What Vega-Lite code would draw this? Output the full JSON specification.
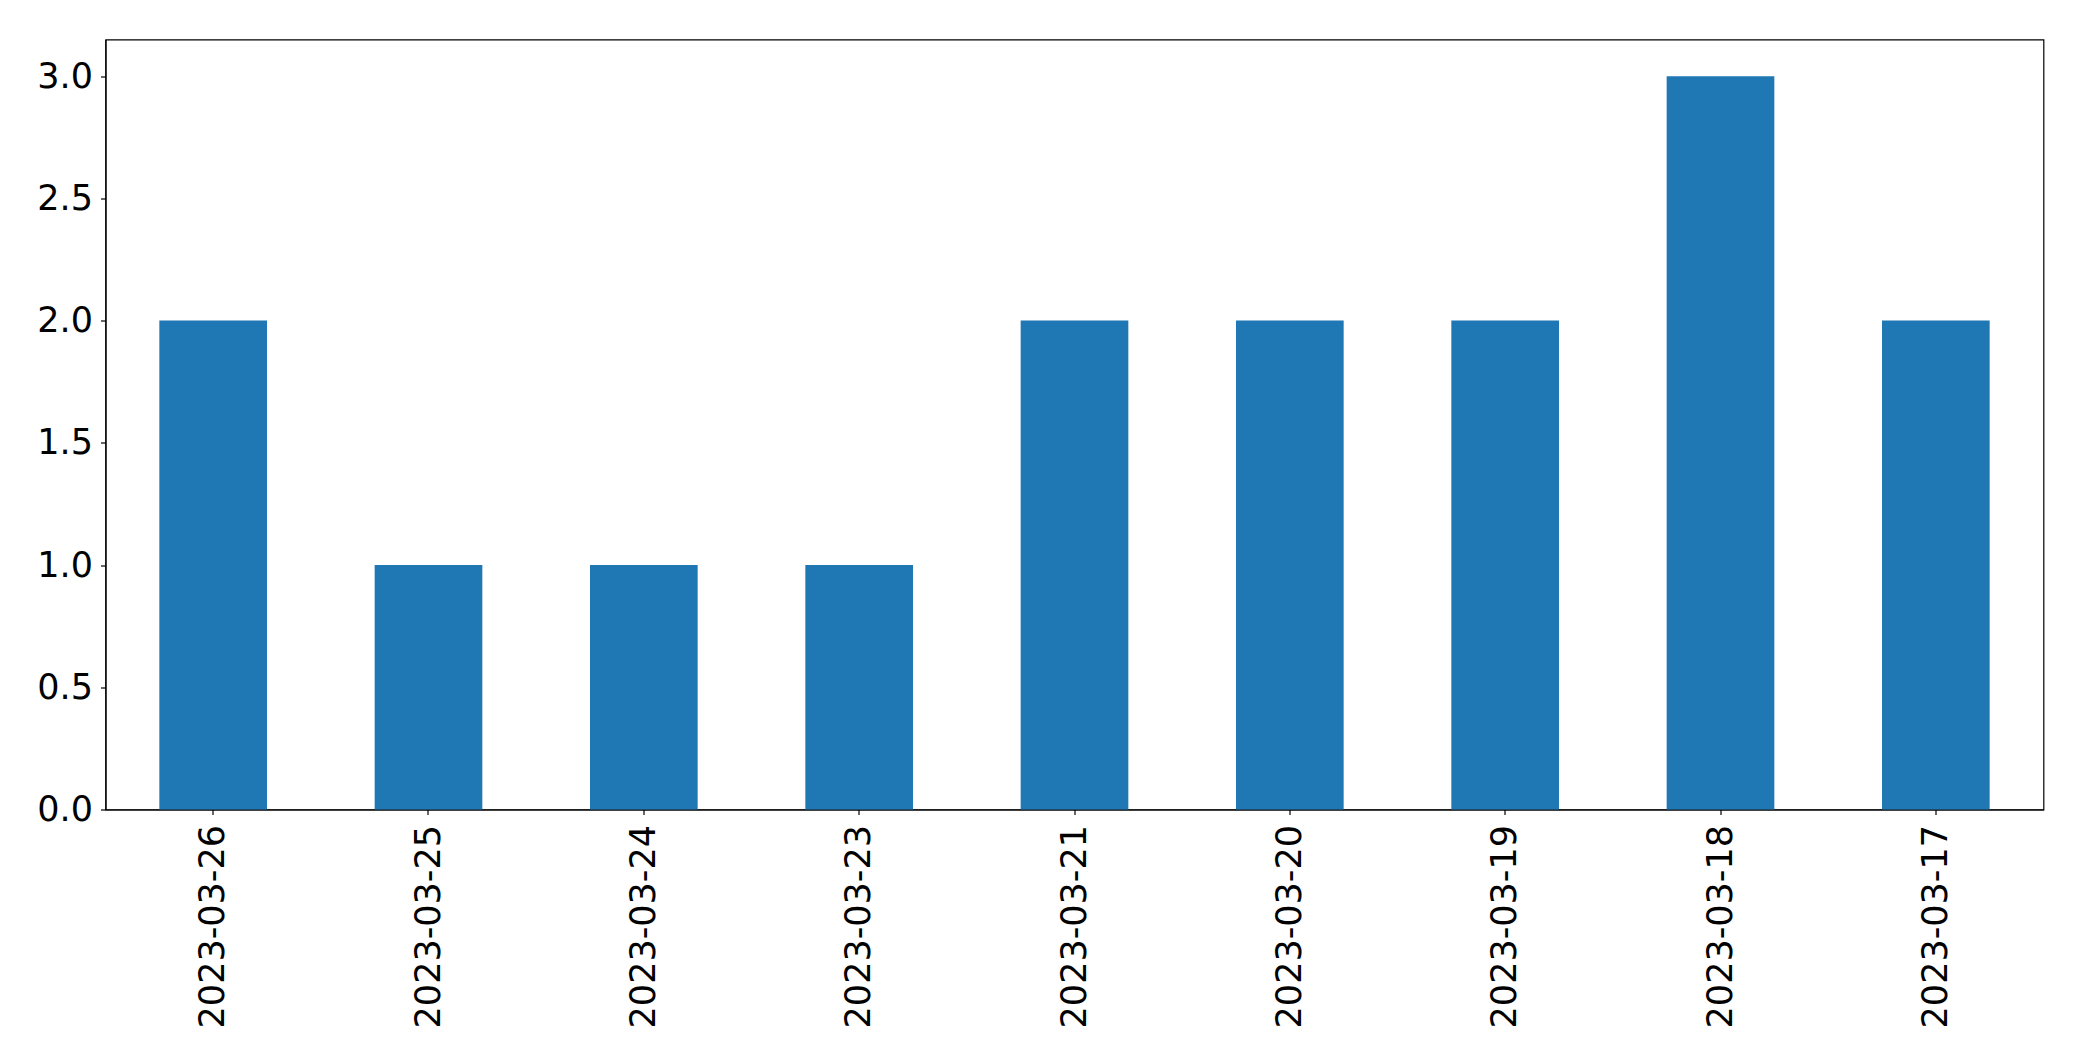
{
  "$schema": "https://vega.github.io/schema/vega-lite/v6.json",
  "autosize": {"type": "none"},
  "padding": {"left": 105.5, "top": 39.5, "right": 38.5, "bottom": 251.5},
  "width": 1938,
  "height": 770,
  "background": "white",
  "config": {
    "view": {"stroke": "black", "strokeWidth": 1.2},
    "axis": {
      "labelFont": "DejaVu Sans",
      "labelFontSize": 35,
      "labelColor": "black",
      "labelLimit": 0,
      "tickColor": "black",
      "domainColor": "black",
      "tickSize": 5,
      "tickWidth": 1.2,
      "domainWidth": 1.2,
      "grid": false,
      "title": null
    }
  },
  "data": {
    "values": [
      {"date": "2023-03-26", "count": 2},
      {"date": "2023-03-25", "count": 1},
      {"date": "2023-03-24", "count": 1},
      {"date": "2023-03-23", "count": 1},
      {"date": "2023-03-21", "count": 2},
      {"date": "2023-03-20", "count": 2},
      {"date": "2023-03-19", "count": 2},
      {"date": "2023-03-18", "count": 3},
      {"date": "2023-03-17", "count": 2}
    ]
  },
  "mark": {"type": "bar", "color": "#1f77b4"},
  "encoding": {
    "x": {
      "field": "date",
      "type": "nominal",
      "sort": null,
      "scale": {"paddingInner": 0.5, "paddingOuter": 0.25},
      "axis": {"labelAngle": -90, "labelAlign": "right", "labelBaseline": "middle", "labelPadding": 10}
    },
    "y": {
      "field": "count",
      "type": "quantitative",
      "scale": {"domain": [0, 3.15], "nice": false},
      "axis": {"values": [0, 0.5, 1, 1.5, 2, 2.5, 3], "format": ".1f", "labelPadding": 8}
    }
  }
}
